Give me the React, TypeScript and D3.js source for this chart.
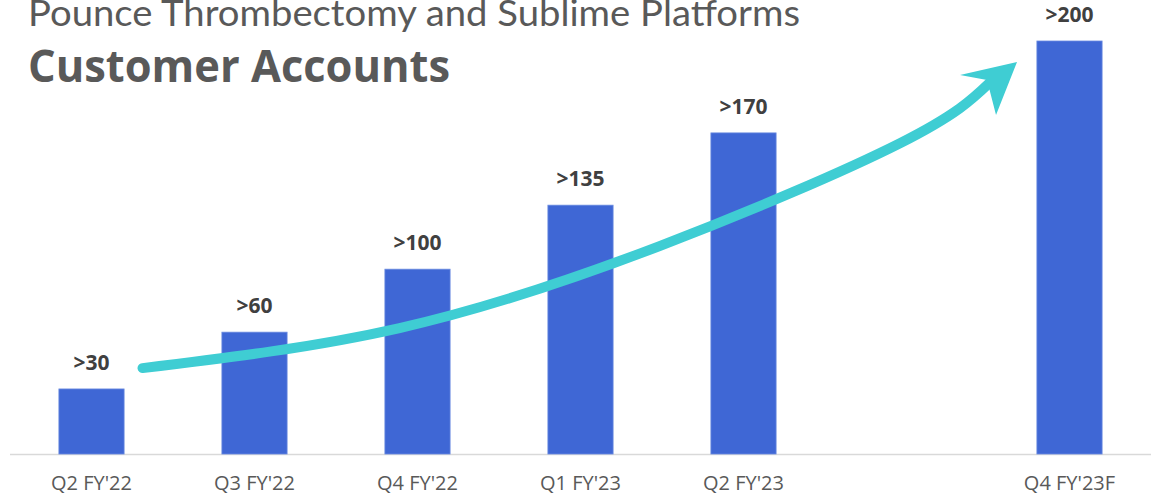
import React from "react";
import * as d3 from "d3";

const categories = ["Q2 FY'22", "Q3 FY'22", "Q4 FY'22", "Q1 FY'23", "Q2 FY'23", "Q3 FY'23", "Q4 FY'23F"];
const barCategories = ["Q2 FY'22", "Q3 FY'22", "Q4 FY'22", "Q1 FY'23", "Q2 FY'23", "Q4 FY'23F"];
const barValues = [31.5, 59, 89.5, 120.5, 155.5, 200];
const barLabels = [">30", ">60", ">100", ">135", ">170", ">200"];
const tickLabels = ["Q2 FY'22", "Q3 FY'22", "Q4 FY'22", "Q1 FY'23", "Q2 FY'23", "", "Q4 FY'23F"];
// trend arrow: [position in category steps from first category, value]
const arrowPoints: [number, number][] = [
  [0.313, 41.6], [1.89, 61.0], [3.485, 100.7], [4.963, 150.6], [5.509, 179.7],
];
const arrowTip: [number, number] = [5.678, 189.8];

const W = 1151, H = 497;
const title1 = "Pounce Thrombectomy and Sublime Platforms";
const title2 = "Customer Accounts";

export default function App() {
  const x = d3.scaleBand<string>().domain(categories).range([10, 1151]).paddingInner(0.6).paddingOuter(0.3);
  const y = d3.scaleLinear().domain([0, 200]).range([454, 41]);
  const bw = x.bandwidth();
  const step = x.step();
  const cx0 = (x(categories[0]) as number) + bw / 2;
  const ax = (u: number) => cx0 + u * step;
  const line = d3.line<[number, number]>().x(d => ax(d[0])).y(d => y(d[1])).curve(d3.curveNatural);
  const tx = ax(arrowTip[0]), ty = y(arrowTip[1]);
  const head = [[tx, ty], [tx - 57, ty + 13], [tx - 30, ty + 18], [tx - 21, ty + 53]];
  return (
    <svg width={W} height={H} style={{ position: "absolute", left: 0, top: 0, background: "#fff" }}>
      <text x={28} y={26} fontFamily="Lato, 'Open Sans', sans-serif" fontWeight={400} fontSize={36} fill="#595959" textLength={772} lengthAdjust="spacingAndGlyphs">{title1}</text>
      <text x={28} y={82} fontFamily="'Open Sans', Lato, sans-serif" fontWeight={700} fontSize={44} fill="#595959" textLength={422} lengthAdjust="spacingAndGlyphs">{title2}</text>
      <line x1={10} x2={1151} y1={y(0) + 0.5} y2={y(0) + 0.5} stroke="#d9d9d9" strokeWidth={1.5} />
      {barCategories.map((c, i) => (
        <g key={c}>
          <rect x={x(c)} y={y(barValues[i])} width={bw} height={y(0) - y(barValues[i])} fill="#3F67D5" stroke="#6A8BE0" strokeWidth={0.8} />
          <text x={(x(c) as number) + bw / 2} y={y(barValues[i]) - 19} textAnchor="middle" fontFamily="'Open Sans', sans-serif" fontWeight={700} fontSize={21} fill="#404040">{barLabels[i]}</text>
        </g>
      ))}
      {categories.map((c, i) => (
        <text key={c} x={(x(c) as number) + bw / 2} y={490} textAnchor="middle" fontFamily="'Open Sans', sans-serif" fontSize={20} fill="#595959">{tickLabels[i]}</text>
      ))}
      <path d={line(arrowPoints) || ""} fill="none" stroke="#3FCDD3" strokeWidth={10} strokeLinecap="round" />
      <polygon points={head.map(p => p.join(",")).join(" ")} fill="#3FCDD3" />
    </svg>
  );
}
